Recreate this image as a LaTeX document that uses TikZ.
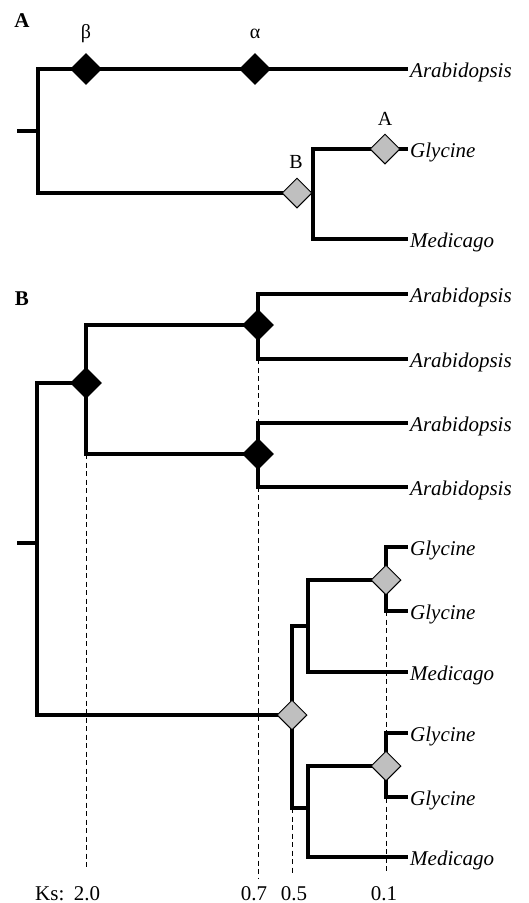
\documentclass[tikz,border=0pt]{standalone}
\usepackage{fontspec}
\setmainfont{Liberation Serif}
\usetikzlibrary{shapes.geometric}
\begin{document}
\begin{tikzpicture}[x=1pt,y=-1pt,
  branch/.style={line width=4pt, line join=miter},
  guide/.style={line width=1pt, dash pattern=on 5pt off 3.5pt},
  leaf/.style={anchor=west, inner sep=2pt, text height=16pt, text depth=0pt,
    font=\fontsize{21}{25}\selectfont\itshape},
  dupblack/.style={diamond, fill=black, draw=none, minimum size=32pt, inner sep=0pt},
  dupgray/.style={diamond, fill=black!25, draw=black, line width=1pt,
    minimum size=30pt, inner sep=0pt},
  eventlabel/.style={anchor=base, inner sep=0pt, font=\fontsize{20}{24}\selectfont},
  panel/.style={anchor=base, inner sep=0pt, font=\fontsize{21}{25}\selectfont\bfseries},
  kslabel/.style={anchor=base, inner sep=0pt, font=\fontsize{21}{25}\selectfont},
]
\useasboundingbox (0,0) rectangle (528,903);

% ---------------- Panel A ----------------
\node[panel] (pA) at (22,27) {A};

\coordinate (stubA) at (17,131);
\coordinate (rootA) at (38,131);
\coordinate (nGM) at (313,193);
\node[leaf] (arA) at (408,69) {Arabidopsis};
\node[leaf] (glA) at (408,149) {Glycine};
\node[leaf] (meA) at (408,239) {Medicago};

\draw[branch] (stubA) -- (rootA);
\draw[branch] (rootA) |- (arA.west);
\draw[branch] (rootA) |- (nGM);
\draw[branch] (nGM) |- (glA.west);
\draw[branch] (nGM) |- (meA.west);

\node[dupblack] (beta) at (86,69) {};
\node[dupblack] (alpha) at (255,69) {};
\node[dupgray] (dupB) at (297,193) {};
\node[dupgray] (dupA) at (385,149) {};

\node[eventlabel] (lbeta) at (86,38) {β};
\node[eventlabel] (lalpha) at (255,38) {α};
\node[eventlabel] (lB) at (296,168) {B};
\node[eventlabel] (lA) at (385,125) {A};

% ---------------- Panel B ----------------
\node[panel] (pB) at (22,305) {B};

\coordinate (stubB) at (17,543);
\coordinate (rootB) at (37,543);
\coordinate (nU) at (86,383);
\coordinate (nU1) at (258,325);
\coordinate (nU2) at (258,454);
\coordinate (nL) at (292,715);
\coordinate (nL1) at (308,626);
\coordinate (nL11) at (386,580);
\coordinate (nL2) at (308,808);
\coordinate (nL21) at (386,766);

\node[leaf] (ar1) at (408,294) {Arabidopsis};
\node[leaf] (ar2) at (408,359) {Arabidopsis};
\node[leaf] (ar3) at (408,423) {Arabidopsis};
\node[leaf] (ar4) at (408,487) {Arabidopsis};
\node[leaf] (gl1) at (408,547) {Glycine};
\node[leaf] (gl2) at (408,611) {Glycine};
\node[leaf] (me1) at (408,672) {Medicago};
\node[leaf] (gl3) at (408,733) {Glycine};
\node[leaf] (gl4) at (408,797) {Glycine};
\node[leaf] (me2) at (408,857) {Medicago};

% Ks guide lines
\coordinate (gU) at (86,454);
\coordinate (gUend) at (86,868);
\coordinate (gA7) at (258,359);
\coordinate (gA7end) at (258,878);
\coordinate (gL) at (292,808);
\coordinate (gLend) at (292,875);
\coordinate (gG) at (386,611);
\coordinate (gGend) at (386,873);
\draw[guide] (gU) -- (gUend);
\draw[guide] (gA7) -- (gA7end);
\draw[guide] (gL) -- (gLend);
\draw[guide] (gG) -- (gGend);

% branches
\draw[branch] (stubB) -- (rootB);
\draw[branch] (rootB) |- (nU);
\draw[branch] (rootB) |- (nL);
\draw[branch] (nU) |- (nU1);
\draw[branch] (nU) |- (nU2);
\draw[branch] (nU1) |- (ar1.west);
\draw[branch] (nU1) |- (ar2.west);
\draw[branch] (nU2) |- (ar3.west);
\draw[branch] (nU2) |- (ar4.west);
\draw[branch] (nL) |- (nL1);
\draw[branch] (nL) |- (nL2);
\draw[branch] (nL1) |- (nL11);
\draw[branch] (nL1) |- (me1.west);
\draw[branch] (nL11) |- (gl1.west);
\draw[branch] (nL11) |- (gl2.west);
\draw[branch] (nL2) |- (nL21);
\draw[branch] (nL2) |- (me2.west);
\draw[branch] (nL21) |- (gl3.west);
\draw[branch] (nL21) |- (gl4.west);

% duplication events
\node[dupblack] (dU) at (nU) {};
\node[dupblack] (dU1) at (nU1) {};
\node[dupblack] (dU2) at (nU2) {};
\node[dupgray] (dL) at (nL) {};
\node[dupgray] (dL11) at (nL11) {};
\node[dupgray] (dL21) at (nL21) {};

% Ks scale
\node[kslabel, anchor=base west] (ks) at (35,900) {Ks:};
\node[kslabel] (ks20) at (87,900) {2.0};
\node[kslabel] (ks07) at (254,900) {0.7};
\node[kslabel] (ks05) at (294,900) {0.5};
\node[kslabel] (ks01) at (384,900) {0.1};
\end{tikzpicture}
\end{document}
